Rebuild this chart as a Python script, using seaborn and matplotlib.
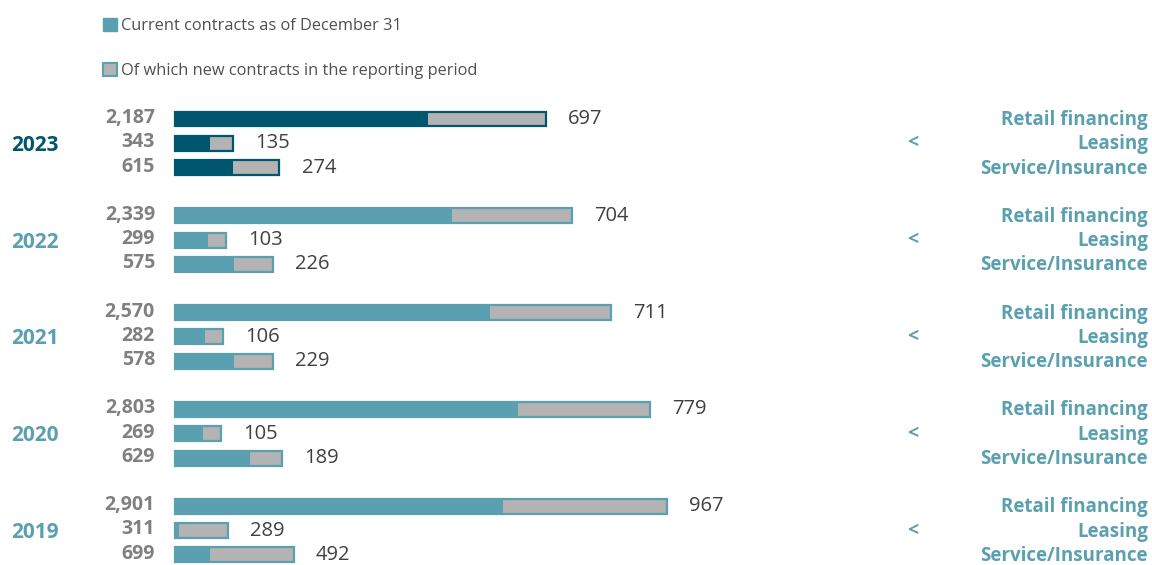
import numpy as np
import pandas as pd
import seaborn as sns
import matplotlib.pyplot as plt
from matplotlib.patches import Patch

years = [2023, 2022, 2021, 2020, 2019]
categories = ['Retail financing', 'Leasing', 'Service/Insurance']
current_contracts = [
    [2187, 343, 615],
    [2339, 299, 575],
    [2570, 282, 578],
    [2803, 269, 629],
    [2901, 311, 699],
]
new_contracts = [
    [697, 135, 274],
    [704, 103, 226],
    [711, 106, 229],
    [779, 105, 189],
    [967, 289, 492],
]
legend_labels = ['Current contracts as of December 31', 'Of which new contracts in the reporting period']

dark_teal = '#00566f'
teal = '#5aa0b0'
grey_fill = '#b3b3b3'
year_colors = {2023: dark_teal, 2022: teal, 2021: teal, 2020: teal, 2019: teal}

sns.set_theme(style='white')
plt.rcParams['font.family'] = ['Open Sans', 'DejaVu Sans']

# one row per bar, y in pixel-like units (0 at top)
rows = []
for g, yr in enumerate(years):
    for c, cat in enumerate(categories):
        rows.append({'year': yr, 'category': cat, 'ypos': 119 + g * 96.8 + c * 24.3,
                     'total': current_contracts[g][c], 'new': new_contracts[g][c]})
df = pd.DataFrame(rows)
df['old'] = df['total'] - df['new']

fig = plt.figure(figsize=(11.52, 5.65), dpi=100)
ax = fig.add_axes([0, 0, 1, 1])

px = 0.1696  # pixels per contract unit
x0 = 175
bar_w = 15 / 24.3

# full bar (grey with year-coloured outline), then the existing part on top
sns.barplot(data=df, x='total', y='ypos', orient='y', native_scale=True, hue='year',
            palette={y: grey_fill for y in years}, dodge=False, legend=False, saturation=1,
            errorbar=None, width=bar_w, ax=ax, linewidth=0)
for p in ax.patches:
    yc = df.loc[(df['ypos'] - (p.get_y() + p.get_height() / 2)).abs().idxmin(), 'year']
    p.set_edgecolor(year_colors[yc])
    p.set_linewidth(1.6)
sns.barplot(data=df, x='old', y='ypos', orient='y', native_scale=True, hue='year',
            palette=year_colors, dodge=False, legend=False, saturation=1,
            errorbar=None, width=bar_w, ax=ax, linewidth=0)

ax.set_xlim(-x0 / px, (1152 - x0) / px)
ax.set_ylim(565, 0)
ax.axis('off')

for _, r in df.iterrows():
    ax.text((155 - x0) / px, r['ypos'] - 1, f"{r['total']:,}", ha='right', va='center',
            fontsize=14, fontweight='bold', color='#808080')
    ax.annotate(f"{r['new']:,}", (r['total'], r['ypos']), xytext=(16, 0),
                textcoords='offset points', ha='left', va='center',
                fontsize=14.5, color='#404040')

for g, yr in enumerate(years):
    ymid = 119 + g * 96.8 + 24.3
    ax.text((35 - x0) / px, ymid + 2, str(yr), ha='center', va='center',
            fontsize=15, fontweight='bold', color=year_colors[yr])
    ax.text((913 - x0) / px, ymid, '<', ha='center', va='center',
            fontsize=14, fontweight='bold', color=teal)
    for c, cat in enumerate(categories):
        ax.text((1148 - x0) / px, 119 + g * 96.8 + c * 24.3 + 1, cat, ha='right', va='center',
                fontsize=13.5, fontweight='bold', color=teal)

handles = [Patch(facecolor=teal, edgecolor=teal), Patch(facecolor=grey_fill, edgecolor=teal, linewidth=1.5)]
fig.legend(handles, legend_labels, loc='upper left', bbox_to_anchor=(88 / 1152, 1 - 3 / 565),
           frameon=False, handlelength=0.85, handleheight=0.85, handletextpad=0.25,
           labelspacing=1.75, fontsize=11.8, labelcolor='#505050')

fig.savefig('out.png', dpi=100)
